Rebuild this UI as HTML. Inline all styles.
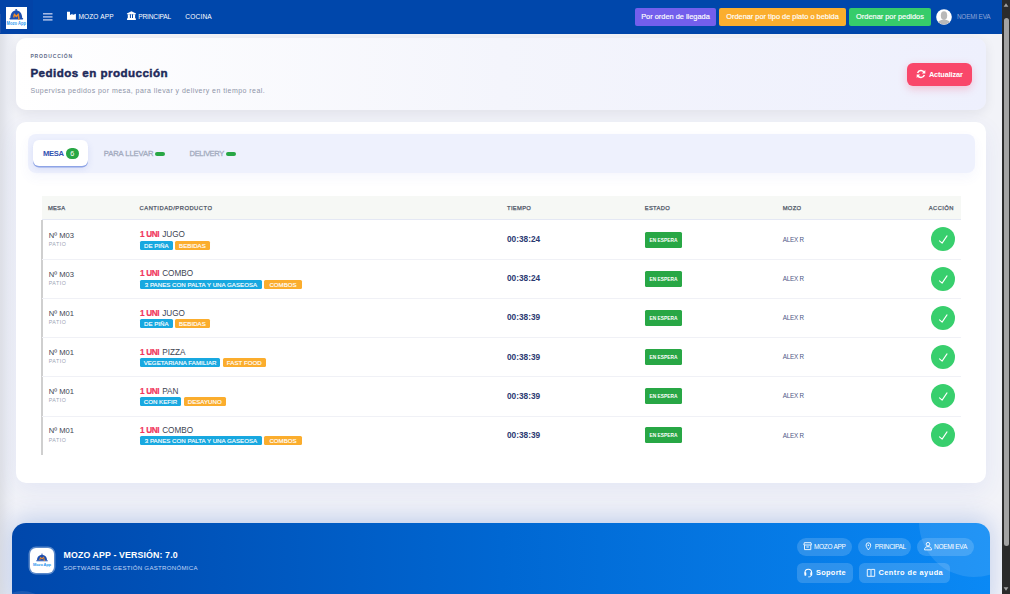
<!DOCTYPE html>
<html><head><meta charset="utf-8">
<style>
*{box-sizing:border-box;margin:0;padding:0}
html,body{width:1010px;height:594px;overflow:hidden}
body{font-family:"Liberation Sans",sans-serif;background:#f2f3f8;position:relative;color:#2b3a67}
.abs,.t,.badge,.esp,.chk,.sep{position:absolute}
.t{line-height:1;white-space:nowrap}
#leftband{left:0;top:33px;width:16px;height:561px;background:linear-gradient(90deg,rgba(222,224,230,1) 0,rgba(224,226,233,.9) 3px,rgba(226,229,238,.5) 8px,rgba(230,233,243,0) 16px)}
#nav{left:0;top:0;width:1002px;height:33.5px;background:#0047ab}
#navleft{left:0;top:0;width:32.7px;height:33.5px;background:#0243a7}
#logo{left:6px;top:6px;width:21px;height:22px;background:#fff}
.btn{top:8px;height:18px;border-radius:2px;color:#fff;font-size:7.4px;text-align:center;line-height:17.4px;white-space:nowrap;-webkit-text-stroke:.15px #fff}
#card1{left:16px;top:38px;width:970px;height:72px;border-radius:10px;background:linear-gradient(90deg,#ffffff 0%,#f4f5fc 50%,#eef0fd 100%);box-shadow:0 3px 12px rgba(20,30,70,.08)}
#card2{left:16px;top:122px;width:970px;height:361px;border-radius:10px;background:#fff;box-shadow:0 8px 24px rgba(50,80,200,.075)}
#tabs{left:28px;top:134px;width:947px;height:39px;border-radius:8px;background:#eef1fd;box-shadow:0 5px 12px rgba(80,100,220,.05)}
#tabact{left:33px;top:140px;width:55px;height:26px;border-radius:6px;background:#fff;box-shadow:0 1.5px 0 #8ea4e6,0 3px 7px rgba(60,80,200,.12)}
.pill{position:absolute;height:4px;width:10px;border-radius:2px;background:#28a745;top:152px}
#badge6{left:65.8px;top:148.2px;width:13px;height:11px;border-radius:6px;background:#28a745;color:#fff;font-size:7.2px;line-height:11.6px;text-align:center}
#thead{left:42px;top:196px;width:919px;height:24px;background:#f6f8f5;border-bottom:1px solid #e4e8f4}
.sep{left:42px;width:919px;height:1px;background:#f0f1f6}
#lborder{left:41px;top:220px;width:1.6px;height:234.6px;background:#cfcfcf}
.badge{height:9px;border-radius:1.5px;color:#fff;font-size:6.1px;line-height:9.6px;text-align:center;white-space:nowrap;letter-spacing:.04px;text-indent:.04px;-webkit-text-stroke:.15px #fff}
.bb{background:#18a8e0}.bo{background:#fbad2d}
.esp{left:645px;width:37px;height:16px;border-radius:1.5px;background:#28a745;color:#fff;font-size:5.7px;line-height:16.4px;text-align:center;font-weight:bold}
.esp span{display:inline-block;transform:scaleX(.85)}
.chk{left:931px;width:24px;height:24px;border-radius:50%;background:#38cf6d}
.chk svg{display:block}
#actbtn{left:907px;top:63px;width:65px;height:23px;border-radius:6px;background:#f9476a;box-shadow:0 3px 8px rgba(249,71,106,.28);color:#fff;font-weight:bold;font-size:6.8px;line-height:23px}
#footer{left:12px;top:523px;width:978px;height:90px;border-radius:14px;background:linear-gradient(90deg,#0047ab 0%,#0067d2 50%,#0a89f5 100%);overflow:hidden;box-shadow:0 -4px 24px rgba(0,70,190,.22)}
#footer .circ{position:absolute;border-radius:50%;background:rgba(255,255,255,.1)}
.fp{position:absolute;background:rgba(255,255,255,.16);color:#fff;white-space:nowrap}
#sb{left:1002px;top:0;width:8px;height:594px;background:#2b2b2b}
#thumb{left:1003.5px;top:18px;width:5px;height:528px;border-radius:3px;background:#a3a3a3}

</style></head>
<body>
<div class="abs" id="leftband"></div>
<div class="abs" id="nav"></div>
<div class="abs" id="navleft"></div>
<div class="abs" style="left:0;top:14px;width:1px;height:19px;background:#1a50aa"></div>
<svg class="abs" style="left:6px;top:6.6px" width="21" height="22" viewBox="0 0 21 22">
 <rect width="21" height="22" fill="#fff"/>
 <ellipse cx="10.2" cy="2.9" rx="1" ry="0.9" fill="#1d4fb0"/>
 <path d="M4.3 11.2 C4.3 6 6.9 3.4 10.2 3.4 C13.5 3.4 16.2 6 16.2 11.2 Z" fill="#1d4fb0"/>
 <rect x="3.4" y="10.9" width="13.8" height="1.5" rx="0.75" fill="#1d4fb0"/>
 <path d="M7.7 10.5 L8.4 7.3 L10.3 9.6 L12.3 7.1 L13 12.8" fill="none" stroke="#f28c28" stroke-width="1.4" stroke-linejoin="round"/>
 <text x="0.6" y="18.1" textLength="19.3" lengthAdjust="spacingAndGlyphs" font-family="Liberation Sans" font-size="5" font-weight="bold" fill="#2b98f0">Mozo App</text>
</svg>
<svg class="abs" style="left:42px;top:12px" width="12" height="10" viewBox="0 0 12 10">
 <rect x="1" y="1.1" width="9.5" height="1.4" fill="#b7c6ea"/>
 <rect x="1" y="4.2" width="9.5" height="1.4" fill="#b7c6ea"/>
 <rect x="1" y="7.2" width="9.5" height="1.4" fill="#b7c6ea"/>
</svg>
<svg class="abs" style="left:0;top:0" width="140" height="33" viewBox="0 0 140 33">
 <path d="M67 11.85 H70 V14.9 L72.6 13.7 V14.9 L75.9 13.7 V19.8 H67 Z" fill="#fff"/>
 <path d="M126.9 13.6 L131.45 11.3 L136 13.6 V14.3 H126.9 Z" fill="#fff"/>
 <rect x="127.8" y="14.3" width="2.1" height="3.7" fill="#fff"/>
 <rect x="130.9" y="14.3" width="1.1" height="3.7" fill="#fff"/>
 <rect x="133" y="14.3" width="2.1" height="3.7" fill="#fff"/>
 <path d="M127.4 17.9 H135.5 L136 19.9 H126.9 Z" fill="#fff"/>
</svg>

<div class="abs btn" style="left:635px;width:81px;background:#735fec">Por orden de llegada</div>
<div class="abs btn" style="left:719px;width:127px;background:#fbae2e">Ordenar por tipo de plato o bebida</div>
<div class="abs btn" style="left:849px;width:82px;background:#36cc6a">Ordenar por pedidos</div>
<svg class="abs" style="left:935.8px;top:8.5px" width="16" height="16" viewBox="0 0 16 16">
 <defs><clipPath id="av"><circle cx="8" cy="8" r="7.6"/></clipPath></defs>
 <circle cx="8" cy="8" r="7.8" fill="#fff"/>
 <g clip-path="url(#av)" fill="#b9b9b9">
  <ellipse cx="8" cy="6.6" rx="3.2" ry="4.3"/>
  <path d="M0.5 16.5 C1 12.5 4 10.8 8 10.8 C12 10.8 15 12.5 15.5 16.5 Z"/>
 </g>
</svg>

<div class="abs" id="card1"></div>
<div class="abs" id="actbtn"></div>
<svg class="abs" style="left:915.6px;top:68.9px" width="10" height="10" viewBox="0 0 10 10">
 <path d="M8.3 3.6 A3.6 3.6 0 0 0 1.6 3.9" fill="none" stroke="#fff" stroke-width="1.5"/>
 <path d="M9.3 0.9 V4.4 H5.8 Z" fill="#fff"/>
 <path d="M1.7 6.4 A3.6 3.6 0 0 0 8.4 6.1" fill="none" stroke="#fff" stroke-width="1.5"/>
 <path d="M0.7 9.1 V5.6 H4.2 Z" fill="#fff"/>
</svg>
<div class="abs" id="card2"></div>
<div class="abs" id="tabs"></div>
<div class="abs" id="tabact"></div>
<div class="abs" id="badge6">6</div>
<div class="pill" style="left:155px"></div>
<div class="pill" style="left:226px"></div>
<div class="abs" id="thead"></div>
<div class="abs" id="lborder"></div>

<div class="abs" id="footer">
 <div class="circ" style="left:907px;top:-56px;width:110px;height:110px"></div>
 <div class="circ" style="left:-20px;top:68px;width:60px;height:60px"></div>
</div>
<div class="abs" style="left:29.8px;top:547.7px;width:24px;height:25px;border-radius:6px;background:#fff;box-shadow:0 0 0 1.5px rgba(255,255,255,.35)"></div>
<svg class="abs" style="left:32px;top:550px" width="20" height="20" viewBox="0 0 20 20">
 <circle cx="10" cy="4.3" r="0.7" fill="#1d4fb0"/>
 <path d="M5 10.2 C5 6.6 7.2 4.9 10 4.9 C12.8 4.9 15 6.6 15 10.2 Z" fill="#1d4fb0"/>
 <rect x="4.2" y="10.2" width="11.6" height="1.1" rx="0.5" fill="#1d4fb0"/>
 <path d="M7.8 10 L8.5 7.1 L10.1 9.1 L11.6 6.9 L12.4 11" fill="none" stroke="#f28c28" stroke-width="1" stroke-linejoin="round"/>
 <text x="10" y="15.6" text-anchor="middle" font-family="Liberation Sans" font-size="4" font-weight="bold" fill="#2a96ee" letter-spacing="-0.15">Mozo App</text>
</svg>
<div class="fp" style="left:797px;top:538px;width:55px;height:18px;border-radius:9px"></div>
<div class="fp" style="left:858px;top:538px;width:53.3px;height:18px;border-radius:9px"></div>
<div class="fp" style="left:917.3px;top:538px;width:56.5px;height:18px;border-radius:9px"></div>
<div class="fp" style="left:797px;top:562.8px;width:56.4px;height:20.4px;border-radius:5.5px"></div>
<div class="fp" style="left:859.3px;top:562.8px;width:90.7px;height:20.4px;border-radius:5.5px"></div>
<svg class="abs" style="left:795px;top:535px" width="150" height="50" viewBox="795 535 150 50" fill="none" stroke="#fff" stroke-width="0.9">
 <path d="M804.3 542.7 H811 L811.4 545 H803.9 Z M804.5 545.2 V549.6 H810.8 V545.2 M806.4 547 H808.8"/>
 <path d="M868.4 549.9 C866.9 548 866.1 546.6 866.1 545.1 A2.3 2.3 0 0 1 870.7 545.1 C870.7 546.6 869.9 548 868.4 549.9 Z" stroke-width="0.9"/><circle cx="868.4" cy="545.2" r="0.8" fill="#fff" stroke="none"/>
 <circle cx="928" cy="544.2" r="1.8"/>
 <path d="M924.5 549.9 C924.5 547.6 926 546.6 928 546.6 C930 546.6 931.5 547.6 931.5 549.9 Z"/>
 <path d="M805 573.5 V572.5 A3.3 3.3 0 0 1 811.6 572.5 V573.5" stroke-width="1.1"/>
 <rect x="804.4" y="572.3" width="1.9" height="3.4" rx="0.6" fill="#fff" stroke="none"/>
 <rect x="810.3" y="572.3" width="1.9" height="3.4" rx="0.6" fill="#fff" stroke="none"/>
 <path d="M811.2 575.5 C811.2 576.5 810 576.9 808.3 576.9"/>
 <path d="M867.3 569.4 H870.3 C870.8 569.4 871 569.7 871 570.2 V576.3 H867.3 Z M871 570.2 C871 569.7 871.2 569.4 871.7 569.4 H874.7 V576.3 H871"/>
</svg>
<div class="t" style="left:78.40px;top:14.01px;font-size:6.6px;color:#fff;font-weight:normal;letter-spacing:0.1px;">MOZO APP</div>
<div class="t" style="left:138.30px;top:14.01px;font-size:6.6px;color:#fff;font-weight:normal;letter-spacing:-0.17px;">PRINCIPAL</div>
<div class="t" style="left:185.30px;top:14.01px;font-size:6.6px;color:#fff;font-weight:normal;letter-spacing:0.15px;">COCINA</div>
<div class="t" style="left:956.90px;top:14.18px;font-size:6.4px;color:#8fa6d6;font-weight:normal;letter-spacing:-0.17px;">NOEMI EVA</div>
<div class="t" style="left:30.40px;top:54.37px;font-size:5.0px;color:#626c8a;font-weight:bold;letter-spacing:0.85px;">PRODUCCIÓN</div>
<div class="t" style="left:30.40px;top:67.38px;font-size:11.6px;color:#1e2a5a;font-weight:bold;letter-spacing:0.45px;-webkit-text-stroke:0.45px #1e2a5a;">Pedidos en producción</div>
<div class="t" style="left:30.40px;top:87.47px;font-size:7.0px;color:#8e94a8;font-weight:normal;letter-spacing:0.45px;">Supervisa pedidos por mesa, para llevar y delivery en tiempo real.</div>
<div class="t" style="left:928.90px;top:70.84px;font-size:7.4px;color:#fff;font-weight:bold;letter-spacing:-0.15px;">Actualizar</div>
<div class="t" style="left:42.90px;top:149.57px;font-size:7.6px;color:#3253b0;font-weight:bold;letter-spacing:-0.3px;">MESA</div>
<div class="t" style="left:103.70px;top:149.57px;font-size:7.6px;color:#a3abbe;font-weight:normal;letter-spacing:-0.05px;-webkit-text-stroke:0.3px #a3abbe;">PARA LLEVAR</div>
<div class="t" style="left:189.60px;top:149.57px;font-size:7.6px;color:#a3abbe;font-weight:normal;letter-spacing:-0.4px;-webkit-text-stroke:0.3px #a3abbe;">DELIVERY</div>
<div class="t" style="left:47.90px;top:206.09px;font-size:5.8px;color:#4f5767;font-weight:normal;letter-spacing:0.25px;-webkit-text-stroke:0.25px #4f5767;">MESA</div>
<div class="t" style="left:139.60px;top:206.09px;font-size:5.8px;color:#4f5767;font-weight:normal;letter-spacing:0.5px;-webkit-text-stroke:0.25px #4f5767;">CANTIDAD/PRODUCTO</div>
<div class="t" style="left:507.10px;top:206.09px;font-size:5.8px;color:#4f5767;font-weight:normal;letter-spacing:0.3px;-webkit-text-stroke:0.25px #4f5767;">TIEMPO</div>
<div class="t" style="left:644.70px;top:206.09px;font-size:5.8px;color:#4f5767;font-weight:normal;letter-spacing:0.35px;-webkit-text-stroke:0.25px #4f5767;">ESTADO</div>
<div class="t" style="left:782.70px;top:206.09px;font-size:5.8px;color:#4f5767;font-weight:normal;letter-spacing:0.35px;-webkit-text-stroke:0.25px #4f5767;">MOZO</div>
<div class="t" style="left:928.80px;top:206.09px;font-size:5.8px;color:#4f5767;font-weight:normal;letter-spacing:0.42px;-webkit-text-stroke:0.25px #4f5767;">ACCIÓN</div>
<div class="sep" style="top:259.10px"></div>
<div class="t" style="left:48.70px;top:231.97px;font-size:7.6px;color:#3d4452;font-weight:normal;letter-spacing:0.05px;">Nº M03</div>
<div class="t" style="left:48.70px;top:242.01px;font-size:5.3px;color:#9ca3b4;font-weight:normal;letter-spacing:0.5px;">PATIO</div>
<div class="t" style="left:140.00px;top:231.36px;font-size:8.2px;color:#f1365c;font-weight:bold;letter-spacing:-0.35px;-webkit-text-stroke:0.2px #f1365c;">1 UNI</div>
<div class="t" style="left:162.20px;top:231.36px;font-size:8.2px;color:#3d4452;font-weight:normal;letter-spacing:0px;">JUGO</div>
<div class="badge bb" style="left:140px;top:240.80px;width:32.6px">DE PIÑA</div>
<div class="badge bo" style="left:175.1px;top:240.80px;width:34.7px">BEBIDAS</div>
<div class="t" style="left:507.00px;top:235.27px;font-size:8.3px;color:#2c3a72;font-weight:bold;letter-spacing:0.0px;">00:38:24</div>
<div class="esp" style="top:231.70px"><span>EN ESPERA</span></div>
<div class="t" style="left:782.70px;top:237.07px;font-size:6.3px;color:#4d5785;font-weight:normal;letter-spacing:-0.2px;">ALEX R</div>
<div class="chk" style="top:227.40px"><svg width="24" height="24" viewBox="0 0 24 24"><path d="M8.5 13.9 L11.1 16.1 L16 8.9" fill="none" stroke="#fff" stroke-width="1.1" stroke-linecap="round" stroke-linejoin="round"/></svg></div>
<div class="sep" style="top:298.20px"></div>
<div class="t" style="left:48.70px;top:271.07px;font-size:7.6px;color:#3d4452;font-weight:normal;letter-spacing:0.05px;">Nº M03</div>
<div class="t" style="left:48.70px;top:281.11px;font-size:5.3px;color:#9ca3b4;font-weight:normal;letter-spacing:0.5px;">PATIO</div>
<div class="t" style="left:140.00px;top:270.46px;font-size:8.2px;color:#f1365c;font-weight:bold;letter-spacing:-0.35px;-webkit-text-stroke:0.2px #f1365c;">1 UNI</div>
<div class="t" style="left:162.20px;top:270.46px;font-size:8.2px;color:#3d4452;font-weight:normal;letter-spacing:0px;">COMBO</div>
<div class="badge bb" style="left:140px;top:279.90px;width:121.9px">3 PANES CON PALTA Y UNA GASEOSA</div>
<div class="badge bo" style="left:264.1px;top:279.90px;width:37.9px">COMBOS</div>
<div class="t" style="left:507.00px;top:274.37px;font-size:8.3px;color:#2c3a72;font-weight:bold;letter-spacing:0.0px;">00:38:24</div>
<div class="esp" style="top:270.80px"><span>EN ESPERA</span></div>
<div class="t" style="left:782.70px;top:276.17px;font-size:6.3px;color:#4d5785;font-weight:normal;letter-spacing:-0.2px;">ALEX R</div>
<div class="chk" style="top:266.50px"><svg width="24" height="24" viewBox="0 0 24 24"><path d="M8.5 13.9 L11.1 16.1 L16 8.9" fill="none" stroke="#fff" stroke-width="1.1" stroke-linecap="round" stroke-linejoin="round"/></svg></div>
<div class="sep" style="top:337.30px"></div>
<div class="t" style="left:48.70px;top:310.17px;font-size:7.6px;color:#3d4452;font-weight:normal;letter-spacing:0.05px;">Nº M01</div>
<div class="t" style="left:48.70px;top:320.21px;font-size:5.3px;color:#9ca3b4;font-weight:normal;letter-spacing:0.5px;">PATIO</div>
<div class="t" style="left:140.00px;top:309.56px;font-size:8.2px;color:#f1365c;font-weight:bold;letter-spacing:-0.35px;-webkit-text-stroke:0.2px #f1365c;">1 UNI</div>
<div class="t" style="left:162.20px;top:309.56px;font-size:8.2px;color:#3d4452;font-weight:normal;letter-spacing:0px;">JUGO</div>
<div class="badge bb" style="left:140px;top:319.00px;width:32.6px">DE PIÑA</div>
<div class="badge bo" style="left:175.1px;top:319.00px;width:34.7px">BEBIDAS</div>
<div class="t" style="left:507.00px;top:313.47px;font-size:8.3px;color:#2c3a72;font-weight:bold;letter-spacing:0.0px;">00:38:39</div>
<div class="esp" style="top:309.90px"><span>EN ESPERA</span></div>
<div class="t" style="left:782.70px;top:315.27px;font-size:6.3px;color:#4d5785;font-weight:normal;letter-spacing:-0.2px;">ALEX R</div>
<div class="chk" style="top:305.60px"><svg width="24" height="24" viewBox="0 0 24 24"><path d="M8.5 13.9 L11.1 16.1 L16 8.9" fill="none" stroke="#fff" stroke-width="1.1" stroke-linecap="round" stroke-linejoin="round"/></svg></div>
<div class="sep" style="top:376.40px"></div>
<div class="t" style="left:48.70px;top:349.27px;font-size:7.6px;color:#3d4452;font-weight:normal;letter-spacing:0.05px;">Nº M01</div>
<div class="t" style="left:48.70px;top:359.31px;font-size:5.3px;color:#9ca3b4;font-weight:normal;letter-spacing:0.5px;">PATIO</div>
<div class="t" style="left:140.00px;top:348.66px;font-size:8.2px;color:#f1365c;font-weight:bold;letter-spacing:-0.35px;-webkit-text-stroke:0.2px #f1365c;">1 UNI</div>
<div class="t" style="left:162.20px;top:348.66px;font-size:8.2px;color:#3d4452;font-weight:normal;letter-spacing:0px;">PIZZA</div>
<div class="badge bb" style="left:140px;top:358.10px;width:80.1px">VEGETARIANA FAMILIAR</div>
<div class="badge bo" style="left:222.6px;top:358.10px;width:43.3px">FAST FOOD</div>
<div class="t" style="left:507.00px;top:352.57px;font-size:8.3px;color:#2c3a72;font-weight:bold;letter-spacing:0.0px;">00:38:39</div>
<div class="esp" style="top:349.00px"><span>EN ESPERA</span></div>
<div class="t" style="left:782.70px;top:354.37px;font-size:6.3px;color:#4d5785;font-weight:normal;letter-spacing:-0.2px;">ALEX R</div>
<div class="chk" style="top:344.70px"><svg width="24" height="24" viewBox="0 0 24 24"><path d="M8.5 13.9 L11.1 16.1 L16 8.9" fill="none" stroke="#fff" stroke-width="1.1" stroke-linecap="round" stroke-linejoin="round"/></svg></div>
<div class="sep" style="top:415.50px"></div>
<div class="t" style="left:48.70px;top:388.37px;font-size:7.6px;color:#3d4452;font-weight:normal;letter-spacing:0.05px;">Nº M01</div>
<div class="t" style="left:48.70px;top:398.41px;font-size:5.3px;color:#9ca3b4;font-weight:normal;letter-spacing:0.5px;">PATIO</div>
<div class="t" style="left:140.00px;top:387.76px;font-size:8.2px;color:#f1365c;font-weight:bold;letter-spacing:-0.35px;-webkit-text-stroke:0.2px #f1365c;">1 UNI</div>
<div class="t" style="left:162.20px;top:387.76px;font-size:8.2px;color:#3d4452;font-weight:normal;letter-spacing:0px;">PAN</div>
<div class="badge bb" style="left:140px;top:397.20px;width:40.9px">CON KEFIR</div>
<div class="badge bo" style="left:183.5px;top:397.20px;width:42.5px">DESAYUNO</div>
<div class="t" style="left:507.00px;top:391.67px;font-size:8.3px;color:#2c3a72;font-weight:bold;letter-spacing:0.0px;">00:38:39</div>
<div class="esp" style="top:388.10px"><span>EN ESPERA</span></div>
<div class="t" style="left:782.70px;top:393.47px;font-size:6.3px;color:#4d5785;font-weight:normal;letter-spacing:-0.2px;">ALEX R</div>
<div class="chk" style="top:383.80px"><svg width="24" height="24" viewBox="0 0 24 24"><path d="M8.5 13.9 L11.1 16.1 L16 8.9" fill="none" stroke="#fff" stroke-width="1.1" stroke-linecap="round" stroke-linejoin="round"/></svg></div>
<div class="t" style="left:48.70px;top:427.47px;font-size:7.6px;color:#3d4452;font-weight:normal;letter-spacing:0.05px;">Nº M01</div>
<div class="t" style="left:48.70px;top:437.51px;font-size:5.3px;color:#9ca3b4;font-weight:normal;letter-spacing:0.5px;">PATIO</div>
<div class="t" style="left:140.00px;top:426.86px;font-size:8.2px;color:#f1365c;font-weight:bold;letter-spacing:-0.35px;-webkit-text-stroke:0.2px #f1365c;">1 UNI</div>
<div class="t" style="left:162.20px;top:426.86px;font-size:8.2px;color:#3d4452;font-weight:normal;letter-spacing:0px;">COMBO</div>
<div class="badge bb" style="left:140px;top:436.30px;width:121.9px">3 PANES CON PALTA Y UNA GASEOSA</div>
<div class="badge bo" style="left:264.1px;top:436.30px;width:37.9px">COMBOS</div>
<div class="t" style="left:507.00px;top:430.77px;font-size:8.3px;color:#2c3a72;font-weight:bold;letter-spacing:0.0px;">00:38:39</div>
<div class="esp" style="top:427.20px"><span>EN ESPERA</span></div>
<div class="t" style="left:782.70px;top:432.57px;font-size:6.3px;color:#4d5785;font-weight:normal;letter-spacing:-0.2px;">ALEX R</div>
<div class="chk" style="top:422.90px"><svg width="24" height="24" viewBox="0 0 24 24"><path d="M8.5 13.9 L11.1 16.1 L16 8.9" fill="none" stroke="#fff" stroke-width="1.1" stroke-linecap="round" stroke-linejoin="round"/></svg></div>
<div class="t" style="left:63.50px;top:550.95px;font-size:8.8px;color:#fff;font-weight:bold;letter-spacing:0.12px;">MOZO APP - VERSIÓN: 7.0</div>
<div class="t" style="left:63.50px;top:564.74px;font-size:6.1px;color:#c3d6f5;font-weight:normal;letter-spacing:0.28px;">SOFTWARE DE GESTIÓN GASTRONÓMICA</div>
<div class="t" style="left:814.00px;top:543.90px;font-size:6.5px;color:#fff;font-weight:normal;letter-spacing:-0.3px;">MOZO APP</div>
<div class="t" style="left:874.80px;top:543.90px;font-size:6.5px;color:#fff;font-weight:normal;letter-spacing:-0.3px;">PRINCIPAL</div>
<div class="t" style="left:934.00px;top:543.90px;font-size:6.5px;color:#fff;font-weight:normal;letter-spacing:-0.3px;">NOEMI EVA</div>
<div class="t" style="left:816.00px;top:568.94px;font-size:7.4px;color:#fff;font-weight:bold;letter-spacing:0.3px;">Soporte</div>
<div class="t" style="left:878.50px;top:568.94px;font-size:7.4px;color:#fff;font-weight:bold;letter-spacing:0.45px;">Centro de ayuda</div>

<div class="abs" id="sb"></div>
<div class="abs" id="thumb"></div>
<svg class="abs" style="left:1002px;top:0" width="8" height="594" viewBox="0 0 8 594">
 <path d="M1.6 6.8 L4 3.2 L6.4 6.8 Z" fill="#a3a3a3"/>
 <path d="M1.6 587.2 L4 590.8 L6.4 587.2 Z" fill="#a3a3a3"/>
</svg>

</body></html>
